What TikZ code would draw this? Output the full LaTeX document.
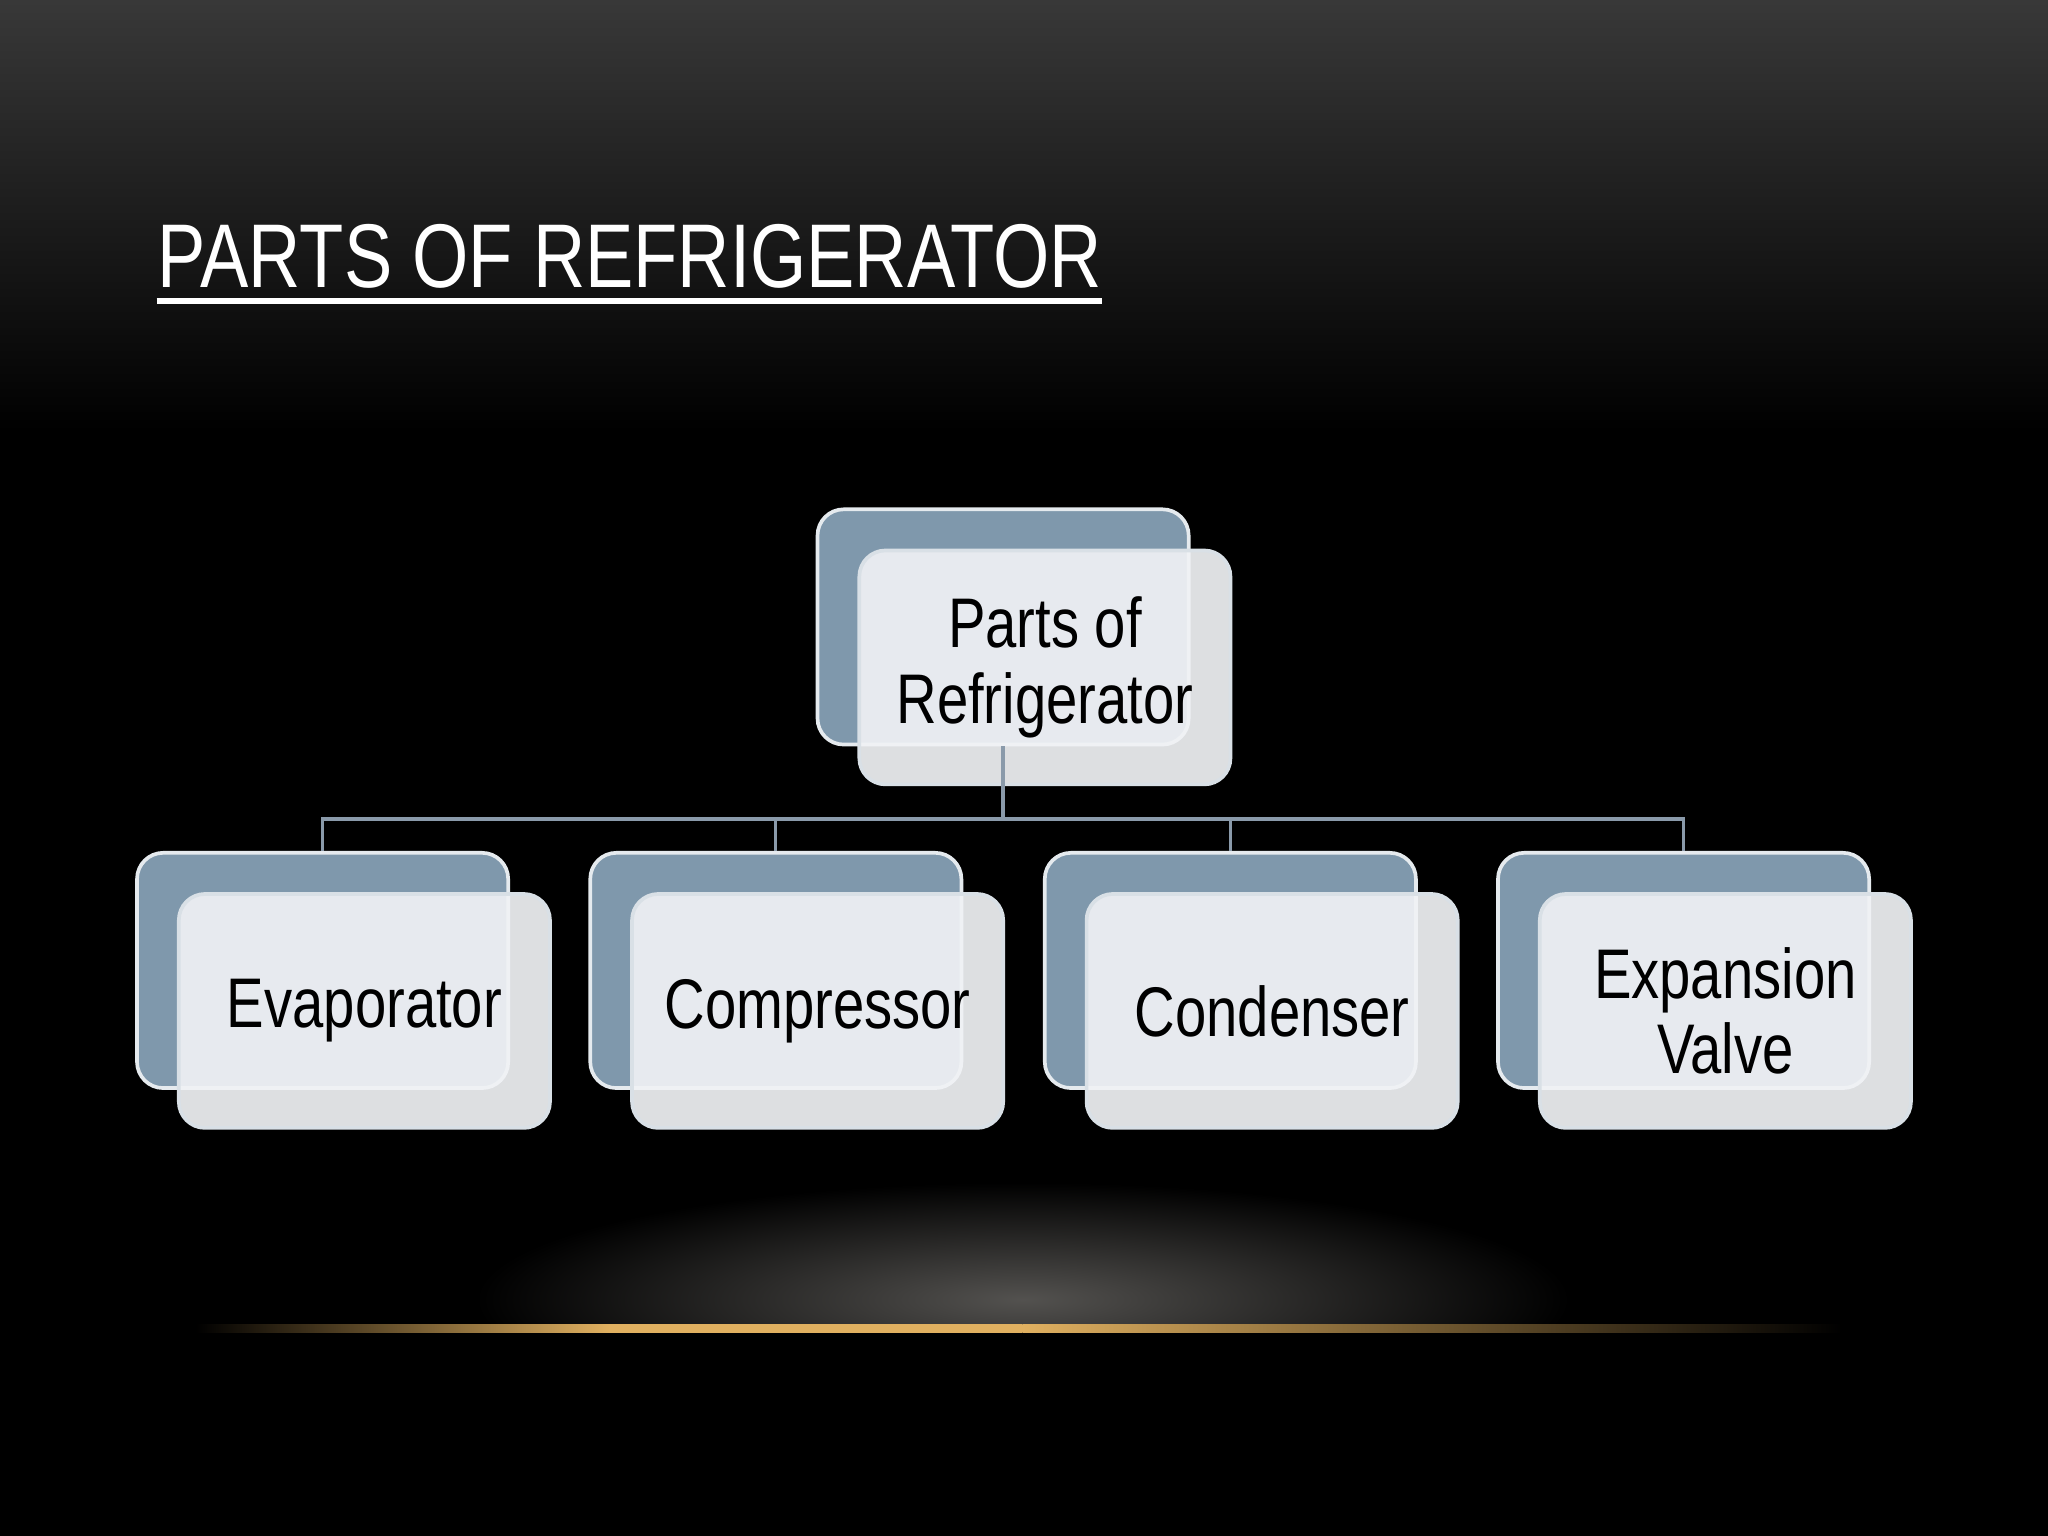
\documentclass[tikz,border=0pt]{standalone}
\usepackage{fontspec}
\setmainfont{Liberation Sans}
\newfontfamily\narrow[FakeStretch=0.8]{Liberation Sans}
\usetikzlibrary{positioning}
\definecolor{backbox}{HTML}{7F98AC}
\definecolor{frontbox}{HTML}{F0F2F5}
\definecolor{linec}{HTML}{8A9AAA}
\definecolor{gold}{HTML}{E0B060}
\begin{document}
\begin{tikzpicture}[x=0.01cm,y=-0.01cm,
  back/.style={draw=white!80!backbox,line width=0.8pt,fill=backbox,rounded corners=0.2cm,minimum width=2.84cm,minimum height=1.8cm,inner sep=0},
  front/.style={draw=white!70!backbox,line width=0.8pt,fill=frontbox,fill opacity=0.92,rounded corners=0.2cm,minimum width=2.84cm,minimum height=1.79cm,inner sep=0,text opacity=1,align=center,font=\narrow\fontsize{15.3}{16.5}\selectfont,text=black},
  conn/.style={draw=linec,line width=0.7pt}]
\fill[top color=black!78,bottom color=black] (0,0) rectangle (1568,330);
\fill[black] (0,330) rectangle (1568,1176);
\useasboundingbox (0,0) rectangle (1568,1176);
% glow
\fill[inner color=black!85!gold!40,outer color=black,opacity=0.5] (783,995) ellipse (420 and 90);
\fill[black] (0,1020) rectangle (1568,1176);
\shade[left color=black,right color=gold,middle color=gold] (150,1014) rectangle (783,1020);
\shade[left color=gold,right color=black] (783,1014) rectangle (1410,1020);
% title
\node[anchor=base west,text=white,font=\narrow\fontsize{19.7}{21}\selectfont,inner sep=0] (title) at (120,220) {PARTS OF REFRIGERATOR};
\draw[white,line width=1.3pt] ([yshift=-0.09cm]title.south west) -- ([yshift=-0.09cm]title.south east);
% boxes
\node[back] (rb) at (768,480) {};
\node[front] (rf) at (800,511) {Parts of\\Refrigerator};
\foreach \n/\x/\t in {a/105/Evaporator,b/452/Compressor,c/800/Condenser,d/1147/{Expansion\\Valve}}{
  \node[back] (\n b) at (\x+142,743) {};
  \node[front] (\n f) at (\x+174,774) {\t};
}
\coordinate (j) at (768,627);
\draw[conn] (rb.south) -- (j);
\draw[conn] (ab.north) |- (j) -| (db.north);
\draw[conn] (bb.north) -- (bb.north|-j);
\draw[conn] (cb.north) -- (cb.north|-j);
\end{tikzpicture}
\end{document}
